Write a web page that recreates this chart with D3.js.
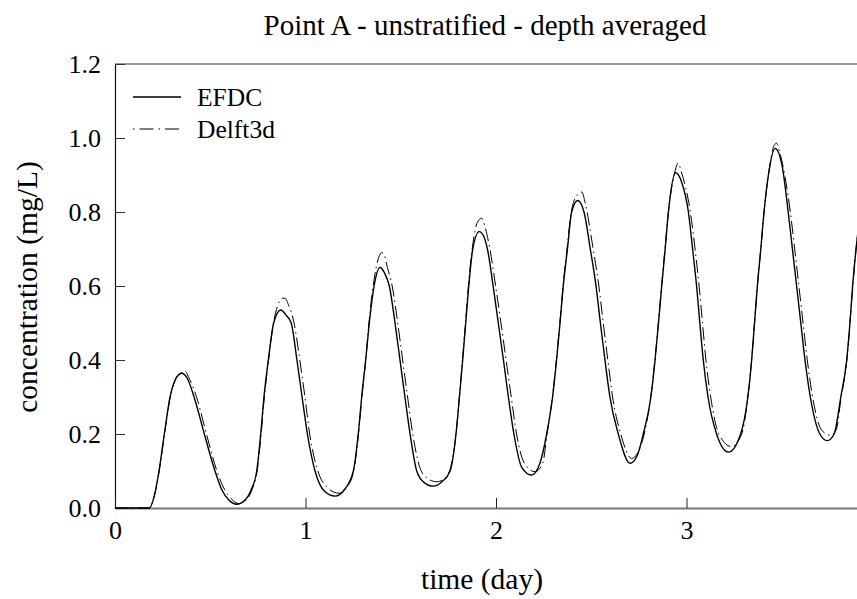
<!DOCTYPE html>
<html>
<head>
<meta charset="utf-8">
<script src="https://cdn.jsdelivr.net/npm/d3@7"></script>
<style>
  html, body { margin: 0; padding: 0; background: #fff; }
  svg { display: block; }
  text { font-family: "Liberation Serif", "Times New Roman", serif; fill: #000; }
</style>
</head>
<body>
<svg id="chart" width="857" height="599"></svg>
<script>
// ---- data ----
const chartTitle = "Point A - unstratified - depth averaged";
const xTitle = "time (day)";
const yTitle = "concentration (mg/L)";
const seriesNames = ["EFDC", "Delft3d"];
const xTicks = [0, 1, 2, 3];
const yTicks = [0.0, 0.2, 0.4, 0.6, 0.8, 1.0, 1.2];

// time (day)
const efdcTime = [0,0.10,0.18,0.205,0.231,0.259,0.289,0.315,0.35,0.38,0.415,0.469,0.525,0.56,0.60,0.639,
  0.68,0.715,0.744,0.765,0.782,0.805,0.833,0.870,0.90,0.925,0.955,0.982,1.01,1.05,1.10,1.155,
  1.205,1.251,1.277,1.295,1.316,1.335,1.36,1.391,1.415,1.44,1.47,1.496,1.522,1.549,1.584,1.62,1.671,
  1.715,1.759,1.79,1.808,1.825,1.841,1.857,1.878,1.912,1.935,1.955,1.985,2.012,2.039,2.065,2.094,2.135,2.187,
  2.23,2.266,2.297,2.318,2.336,2.353,2.375,2.397,2.429,2.462,2.495,2.525,2.548,2.572,2.598,2.642,2.703,
  2.74,2.773,2.813,2.835,2.853,2.87,2.888,2.905,2.943,2.975,3.01,3.032,3.053,3.07,3.088,3.113,3.158,3.22,
  3.284,3.322,3.342,3.357,3.372,3.39,3.407,3.43,3.465,3.5,3.534,3.556,3.578,3.6,3.622,3.65,3.70,3.739,
  3.775,3.81,3.841,3.858,3.872,3.895,3.92];
// concentration (mg/L)
const efdcConc = [0,0,0,0.03,0.1,0.2,0.3,0.345,0.364,0.35,0.3,0.2,0.1,0.05,0.02,0.01,
  0.02,0.05,0.1,0.2,0.3,0.4,0.5,0.535,0.52,0.5,0.4,0.3,0.2,0.1,0.045,0.032,
  0.05,0.1,0.2,0.3,0.4,0.5,0.6,0.65,0.635,0.6,0.5,0.4,0.3,0.2,0.1,0.07,0.059,
  0.07,0.1,0.2,0.3,0.4,0.5,0.6,0.7,0.747,0.735,0.7,0.6,0.5,0.4,0.3,0.2,0.11,0.089,
  0.12,0.2,0.3,0.4,0.5,0.6,0.7,0.8,0.831,0.8,0.7,0.6,0.5,0.4,0.3,0.2,0.121,
  0.14,0.2,0.3,0.4,0.5,0.6,0.7,0.8,0.906,0.88,0.8,0.7,0.6,0.5,0.4,0.3,0.2,0.151,
  0.2,0.3,0.4,0.5,0.6,0.7,0.8,0.9,0.972,0.93,0.8,0.7,0.6,0.5,0.4,0.3,0.2,0.182,
  0.2,0.3,0.4,0.5,0.6,0.724,0.82];

const delftTime = [0,0.10,0.18,0.205,0.232,0.26,0.29,0.32,0.355,0.367,0.39,0.428,0.48,0.535,0.575,0.61,0.65,
  0.69,0.72,0.746,0.767,0.784,0.806,0.832,0.86,0.88,0.892,0.91,0.94,0.97,0.997,1.022,1.065,1.115,1.175,
  1.215,1.253,1.278,1.296,1.316,1.333,1.355,1.38,1.40,1.41,1.43,1.455,1.484,1.51,1.536,1.563,1.60,1.64,1.689,
  1.73,1.762,1.79,1.808,1.824,1.84,1.855,1.875,1.905,1.925,1.942,1.968,1.998,2.026,2.053,2.08,2.108,2.15,2.205,
  2.245,2.268,2.296,2.317,2.335,2.352,2.373,2.395,2.425,2.45,2.47,2.51,2.54,2.563,2.587,2.612,2.655,2.712,
  2.745,2.778,2.812,2.834,2.852,2.869,2.887,2.905,2.935,2.957,2.972,3.02,3.045,3.066,3.084,3.102,3.127,3.17,3.236,
  3.29,3.322,3.342,3.357,3.372,3.39,3.407,3.43,3.46,3.473,3.49,3.545,3.568,3.59,3.612,3.634,3.662,3.71,3.753,
  3.785,3.812,3.842,3.858,3.873,3.896,3.92];
const delftConc = [0,0,0,0.03,0.1,0.2,0.3,0.35,0.368,0.37,0.35,0.3,0.2,0.1,0.05,0.025,0.012,
  0.022,0.05,0.1,0.2,0.3,0.4,0.5,0.555,0.567,0.567,0.55,0.5,0.4,0.3,0.2,0.1,0.055,0.040,
  0.055,0.1,0.2,0.3,0.4,0.5,0.6,0.67,0.69,0.688,0.65,0.6,0.5,0.4,0.3,0.2,0.11,0.08,0.071,
  0.08,0.11,0.2,0.3,0.4,0.5,0.6,0.7,0.775,0.783,0.76,0.7,0.6,0.5,0.4,0.3,0.2,0.12,0.098,
  0.12,0.2,0.3,0.4,0.5,0.6,0.7,0.8,0.845,0.854,0.82,0.7,0.6,0.5,0.4,0.3,0.2,0.134,
  0.15,0.2,0.3,0.4,0.5,0.6,0.7,0.8,0.9,0.932,0.91,0.8,0.7,0.6,0.5,0.4,0.3,0.2,0.166,
  0.2,0.3,0.4,0.5,0.6,0.7,0.8,0.9,0.98,0.986,0.96,0.8,0.7,0.6,0.5,0.4,0.3,0.21,0.197,
  0.21,0.3,0.4,0.5,0.6,0.73,0.83];

// ---- drawing ----
const svg = d3.select("#chart");
const plotLeft = 115, plotRight = 857, plotTop = 64, plotBottom = 508;

const x = d3.scaleLinear().domain([0, 3.895]).range([plotLeft, plotRight]);
const y = d3.scaleLinear().domain([0, 1.2]).range([plotBottom, plotTop]);

svg.append("defs").append("clipPath").attr("id", "plotclip")
  .append("rect").attr("x", plotLeft).attr("y", plotTop - 5)
  .attr("width", plotRight - plotLeft).attr("height", plotBottom - plotTop + 10);

// title
svg.append("text").attr("x", 485).attr("y", 35).attr("text-anchor", "middle")
  .style("font-size", "29px").text(chartTitle);

// top frame line
svg.append("line").attr("x1", plotLeft).attr("x2", plotRight).attr("y1", plotTop).attr("y2", plotTop)
  .attr("stroke", "#333").attr("stroke-width", 1.2);

// y axis
const gy = svg.append("g").attr("transform", `translate(${plotLeft},0)`)
  .call(d3.axisLeft(y).tickValues(yTicks).tickFormat(d3.format(".1f"))
    .tickSizeInner(-10).tickSizeOuter(0).tickPadding(14));
gy.select(".domain").attr("stroke", "#111").attr("stroke-width", 1.2);
gy.selectAll(".tick line").attr("stroke", "#333").attr("stroke-width", 1);
gy.selectAll(".tick text").style("font-size", "26px").style("font-family", "'Liberation Serif', serif").attr("fill", "#000");

// x axis
const gx = svg.append("g").attr("transform", `translate(0,${plotBottom})`)
  .call(d3.axisBottom(x).tickValues(xTicks).tickFormat(d3.format("d"))
    .tickSizeInner(-10).tickSizeOuter(0).tickPadding(13));
gx.select(".domain").attr("stroke", "#777").attr("stroke-width", 2);
gx.selectAll(".tick line").attr("stroke", "#222").attr("stroke-width", 1);
gx.selectAll(".tick text").style("font-size", "26px").style("font-family", "'Liberation Serif', serif").attr("fill", "#000");

// axis titles
svg.append("text").attr("x", 482).attr("y", 589).attr("text-anchor", "middle")
  .style("font-size", "29.5px").text(xTitle);
svg.append("text").attr("transform", "translate(37,287) rotate(-90)").attr("text-anchor", "middle")
  .style("font-size", "29.5px").text(yTitle);

// lines
const line = d3.line().x(d => x(d[0])).y(d => y(d[1])).curve(d3.curveMonotoneX);
const efdc = efdcTime.map((t, i) => [t, efdcConc[i]]);
const delft = delftTime.map((t, i) => [t, delftConc[i]]);

const plot = svg.append("g").attr("clip-path", "url(#plotclip)");
const styles = [
  { data: delft, width: 1, dash: "13,4,1.5,4" },
  { data: efdc, width: 1.4, dash: null }
];
styles.forEach(s => {
  plot.append("path").datum(s.data).attr("d", line)
    .attr("fill", "none").attr("stroke", "#000").attr("stroke-width", s.width)
    .attr("stroke-dasharray", s.dash);
});

// legend
const legendRows = [
  { name: seriesNames[0], y: 97, width: 1.4, dash: null },
  { name: seriesNames[1], y: 129, width: 1, dash: "1.5,5,14,5" }
];
legendRows.forEach(r => {
  svg.append("line").attr("x1", 133).attr("x2", 181).attr("y1", r.y).attr("y2", r.y)
    .attr("stroke", "#000").attr("stroke-width", r.width).attr("stroke-dasharray", r.dash);
  svg.append("text").attr("x", 197).attr("y", r.y + 9).style("font-size", "25.5px").text(r.name);
});
</script>
</body>
</html>
